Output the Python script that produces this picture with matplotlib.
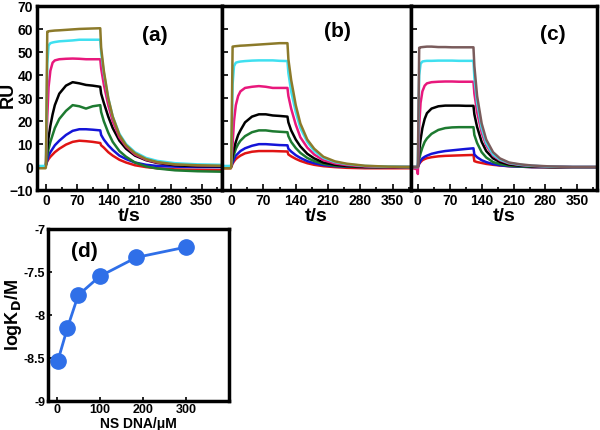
import matplotlib
matplotlib.use('Agg')
import matplotlib.pyplot as plt
from matplotlib.ticker import MultipleLocator

plt.rcParams['font.family'] = ['Liberation Sans', 'DejaVu Sans']
plt.rcParams['font.weight'] = 'bold'

# time points (s) shared by every sensorgram
t = [-20, -1, 0, 3, 6, 10, 15, 20, 30, 45, 60, 75, 90, 105, 122, 124, 130,
     140, 150, 165, 180, 200, 225, 250, 290, 340, 395]

# panel (a) RU
a_olive = [-0.5, -0.5, 0, 59, 59.2, 59.3, 59.4, 59.5, 59.6, 59.8, 60, 60.2, 60.3, 60.4, 60.5, 52, 42,
           30, 22, 14, 9.5, 6, 3.5, 2.2, 1.2, 0.8, 0.6]
a_cyan = [0.5, 0.5, 1, 45, 53, 54, 54.3, 54.5, 54.8, 55, 55.2, 55.5, 55.5, 55.5, 55.5, 50, 41,
          30, 22, 14.5, 10, 6.5, 4, 2.7, 1.7, 1.2, 1.0]
a_magenta = [0, 0, 1, 22, 35, 42, 45.5, 46.5, 47, 47.2, 47.3, 47.2, 47, 47, 47, 43, 36,
             27, 20, 13, 9, 5.5, 3.2, 2, 1.2, 0.8, 0.6]
a_black = [0, 0, 1, 8, 13, 18, 23, 27, 32, 35.5, 37, 36.5, 35.8, 35.5, 35, 32, 28,
           22, 17, 11.5, 8, 5, 3, 1.8, 0.8, 0.4, 0.3]
a_green = [0, 0, 1, 5, 8, 11, 14, 17, 21, 24.5, 27, 26.5, 25.5, 26.5, 27, 24, 20,
           15, 11, 7, 4.5, 2, 0.3, -0.6, -1.4, -1.8, -2.0]
a_blue = [0, 0, 1, 3, 5, 6.5, 8, 9.5, 11.5, 14, 15.8, 16.5, 16.5, 16.3, 16, 14, 12,
          9.5, 7.5, 5, 3.5, 2, 1, 0.5, 0.2, 0, 0]
a_red = [0, 0, 1, 2.5, 3.5, 4.5, 5.5, 6.5, 8, 9.8, 11, 11.5, 11.3, 11, 10.5, 9.5, 8.5,
         6.5, 5, 3.2, 2, 0.8, 0, -0.5, -1, -1.2, -1.3]

# panel (b) RU
b_olive = [-0.5, -0.5, 0, 52.5, 52.6, 52.7, 52.8, 52.9, 53, 53.2, 53.4, 53.6, 53.8, 54, 54, 47, 38,
           27, 19, 12, 8, 4.5, 2.5, 1.5, 0.6, 0.2, 0]
b_cyan = [0.5, 0.5, 1, 36, 44, 45.5, 45.8, 46, 46.2, 46.4, 46.5, 46.5, 46.5, 46.3, 46.2, 41, 33,
          24, 17, 11, 7, 4, 2.2, 1.3, 0.5, 0.2, 0]
b_magenta = [0, 0, 0.5, 10, 20, 27, 31, 33, 34.5, 35, 35.3, 35, 34.5, 34.5, 34.5, 31, 25.5,
             18.5, 13, 8.5, 5.5, 3, 1.6, 0.9, 0.3, 0, 0]
b_black = [0, 0, 0.5, 5, 8, 11, 14, 16, 19.5, 22, 23, 23, 22.5, 22.3, 22, 19.5, 16,
           12, 9, 5.8, 3.8, 2, 1, 0.5, 0.1, 0, 0]
b_green = [0, 0, 0.5, 3.5, 5.5, 8, 10, 11.5, 13.5, 15.2, 16, 16, 15.6, 15.4, 15.2, 13.5, 11,
           8.3, 6.2, 4, 2.6, 1.4, 0.6, 0.3, 0, 0, 0]
b_blue = [0, 0, 0.5, 2, 3.5, 5, 6, 7, 8.2, 9.3, 10, 10, 9.8, 9.6, 9.5, 8, 6.8,
          5.2, 4, 2.6, 1.7, 0.9, 0.4, 0.2, 0, 0, 0]
b_red = [-0.5, -0.5, 0, 1.5, 2.5, 3.5, 4.3, 5, 6, 6.7, 7, 7, 7, 6.9, 6.8, 5.5, 4.7,
         3.6, 2.7, 1.7, 1, 0.4, 0, -0.3, -0.5, -0.5, -0.5]

# panel (c) RU
c_brown = [0, 0, 0, 52, 52.2, 52.3, 52.4, 52.5, 52.5, 52.3, 52.3, 52.2, 52.2, 52.2, 52.2, 44, 31,
           19, 12, 6.5, 3.8, 2, 1.2, 0.7, 0.3, 0, 0]
c_cyan = [0, 0, 0, 40, 45, 46, 46.2, 46.3, 46.3, 46.4, 46.4, 46.4, 46.3, 46.3, 46.3, 39, 28,
          17, 10.5, 5.5, 3.3, 1.8, 1, 0.6, 0.2, 0, 0]
c_magenta = [0, -1, -3, 18, 28, 33, 35.5, 36.5, 37, 37.2, 37.3, 37.3, 37.2, 37.2, 37.2, 32, 24,
             15, 9.5, 5, 3, 1.6, 0.9, 0.5, 0.2, 0, 0]
c_black = [0, 0, 0, 7, 12, 17, 21, 23.5, 25.5, 26.5, 26.8, 26.8, 26.8, 26.7, 26.7, 23, 17.5,
           11, 7, 3.8, 2.2, 1.1, 0.6, 0.3, 0.1, 0, 0]
c_green = [0, 0, 0, 3.5, 6, 8.5, 11, 12.5, 14.5, 16.2, 17, 17.3, 17.4, 17.4, 17.4, 14, 10.5,
           6.5, 4.2, 2.2, 1.3, 0.6, 0.3, 0.1, 0, 0, 0]
c_blue = [0, 0, 0, 1.5, 2.8, 3.8, 4.5, 5, 5.8, 6.5, 7, 7.3, 7.6, 7.9, 8.2, 5.5, 4.3,
          3, 2.2, 1.3, 0.8, 0.4, 0.2, 0, 0, 0, 0]
c_red = [0, 0, 0, 1.5, 2.2, 3, 3.5, 3.9, 4.3, 4.7, 4.9, 5, 5.1, 5.2, 5.3, 2.6, 2.2,
         1.8, 1.4, 1, 0.7, 0.4, 0.2, 0, -0.2, -0.2, -0.2]

# panel (d)
ns_dna = [3, 25, 50, 100, 185, 300]
logkd = [-8.53, -8.15, -7.77, -7.55, -7.33, -7.21]

colors = ['#8c7a2a', '#3fe0f0', '#e8187c', 'black', '#1d7a30', '#1414d8', '#e01414']

fig = plt.figure(figsize=(6, 4.3), dpi=100)

panels = [
    ([a_olive, a_cyan, a_magenta, a_black, a_green, a_blue, a_red], '(a)',
     [0.0617, 0.558, 0.308, 0.427], (-20, 395), (0.64, 0.84)),
    ([b_olive, b_cyan, b_magenta, b_black, b_green, b_blue, b_red], '(b)',
     [0.37, 0.558, 0.315, 0.427], (-20, 390), (0.61, 0.865)),
    ([c_brown, c_cyan, c_magenta, c_black, c_green, c_blue, c_red], '(c)',
     [0.685, 0.558, 0.31, 0.427], (-15, 393), (0.76, 0.845)),
]

for i, (curves, lab, pos, xl, lpos) in enumerate(panels):
    ax = fig.add_axes(pos)
    cols = list(colors)
    if i == 2:
        cols[0] = '#7a5c5c'
    for y, c in reversed(list(zip(curves, cols))):
        ax.plot(t, y, color=c, lw=1.8)
    ax.set_xlim(*xl)
    ax.set_ylim(-10, 70)
    ax.xaxis.set_major_locator(MultipleLocator(70))
    ax.xaxis.set_minor_locator(MultipleLocator(35))
    ax.yaxis.set_major_locator(MultipleLocator(10))
    ax.tick_params(direction='in', length=4, width=1.2, labelsize=10, pad=3)
    ax.tick_params(which='minor', direction='in', length=2.5, width=1.2)
    if i > 0:
        ax.set_yticklabels([])
    else:
        ax.set_ylabel('RU', fontsize=13, fontweight='bold')
        ax.yaxis.set_label_coords(-0.11, 0.52)
    for s in ax.spines.values():
        s.set_linewidth(2.5)
    ax.set_xlabel('t/s', fontsize=14, fontweight='bold', labelpad=0)
    ax.text(lpos[0], lpos[1], lab, transform=ax.transAxes, fontsize=15,
            fontweight='bold', ha='center', va='center')

axd = fig.add_axes([0.08, 0.0674, 0.302, 0.4])
axd.plot(ns_dna, logkd, '-o', color='#2f6fe8', lw=2, ms=11)
axd.set_xlim(-20, 400)
axd.set_ylim(-9, -7)
axd.set_xticks([0, 100, 200, 300])
axd.set_yticks([-9, -8.5, -8, -7.5, -7])
axd.set_yticklabels(['-9', '-8.5', '-8', '-7.5', '-7'])
axd.tick_params(direction='in', length=3, width=1.2, labelsize=9, pad=2)
for s in axd.spines.values():
    s.set_linewidth(2.5)
axd.set_xlabel('NS DNA/\u03bcM', fontsize=10, fontweight='bold', labelpad=1)
axd.set_ylabel('logK$_\\mathbf{D}$/M', fontsize=13, fontweight='bold')
axd.yaxis.set_label_coords(-0.13, 0.5)
axd.text(0.2, 0.87, '(d)', transform=axd.transAxes, fontsize=15,
         fontweight='bold', ha='center', va='center')

fig.savefig('out.png', dpi=100)
